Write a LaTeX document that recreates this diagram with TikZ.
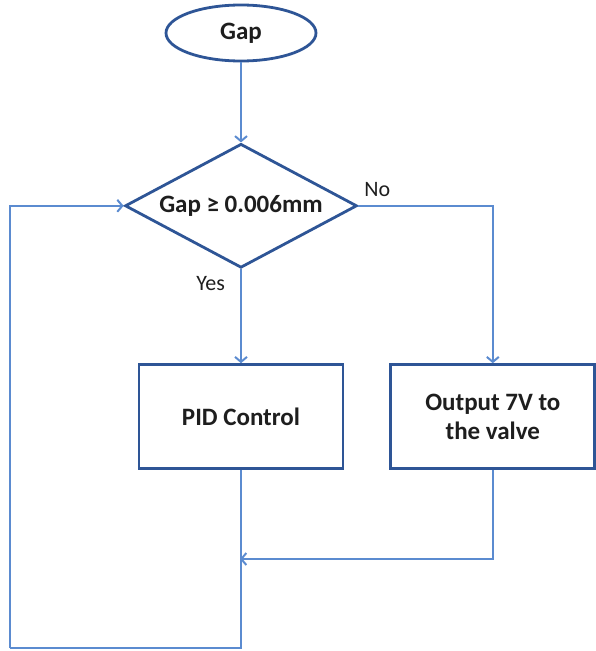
\documentclass[tikz,border=0pt]{standalone}
\usepackage{fontspec}
\setmainfont{Carlito}
\usepackage{tikz}
\usetikzlibrary{positioning,arrows.meta,shapes.geometric,calc}
\definecolor{edgec}{HTML}{2E5596}
\definecolor{linkc}{HTML}{5B8BD0}
\definecolor{textc}{HTML}{1E1E1E}
\tikzset{
  box/.style={draw=edgec, line width=2.8pt, align=center, text=textc,
              font=\fontsize{25}{29}\selectfont\bfseries, fill=white},
  termbox/.style={box, ellipse, minimum width=150pt, minimum height=56pt, inner sep=0pt},
  testbox/.style={box, diamond, aspect=1.87, minimum width=232pt, minimum height=124pt, inner sep=0pt},
  procbox/.style={box, rectangle, minimum width=204pt, minimum height=104pt},
  arr/.style={-{Straight Barb[length=5pt, width=12pt]}, draw=linkc, line width=2pt},
  link/.style={draw=linkc, line width=2pt},
  lbl/.style={font=\fontsize{22}{26}\selectfont, text=textc, inner sep=1pt},
}
\begin{document}
\begin{tikzpicture}[x=1pt, y=-1pt, node distance=80pt and 45pt]
  \useasboundingbox (0,0) rectangle (595,651);
  \node[termbox] (gap) at (241,33) {Gap};
  \node[testbox, below=of gap] (dec) {Gap ≥ 0.006mm};
  \node[procbox, below=94pt of dec] (pid) {PID Control};
  \node[procbox, right=of pid] (out) {Output 7V to\\the valve};
  \coordinate (corner) at (10,648);
  \coordinate (join) at (240,559);
  \draw[arr] (gap) -- (dec);
  \draw[arr] (dec.south) -- node[lbl, pos=0.15, left=14pt]{Yes} (pid.north);
  \draw[arr] (dec.east) -| node[lbl, pos=0.07, above=7pt]{No} (out.north);
  \draw[link] (pid.south) -- (pid.south |- corner) -- (corner);
  \draw[arr] (corner) |- (dec.west);
  \draw[arr] (out.south) |- (join);
\end{tikzpicture}
\end{document}
